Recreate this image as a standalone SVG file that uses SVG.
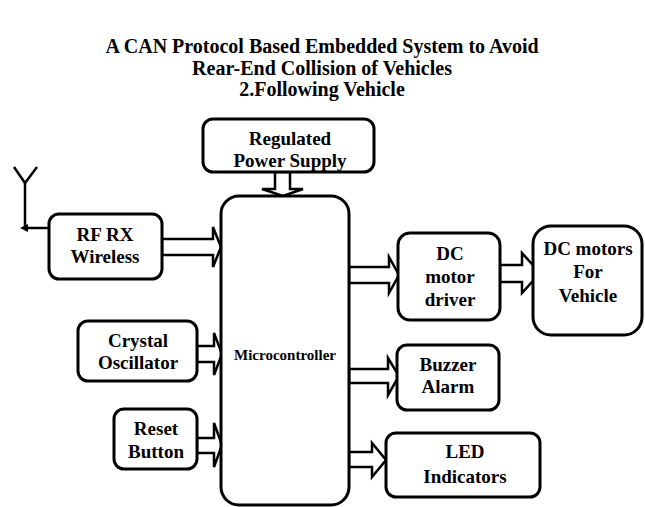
<svg xmlns="http://www.w3.org/2000/svg" width="645" height="507" viewBox="0 0 645 507">
<style>
.box{fill:#fff;stroke:#000;stroke-width:3}
.ba{fill:#fff;stroke:#000;stroke-width:2.5;stroke-linejoin:miter}
.t{font-family:"Liberation Serif","Times New Roman",serif;font-weight:bold;font-size:19px;text-anchor:middle;fill:#000}
.title{font-size:20px}
.mc{font-size:15px}
.ln{stroke:#000;stroke-width:2.5;fill:none}
</style>
<rect width="645" height="507" fill="#fff"/>
<g id="title">
<text class="t title" x="322" y="53">A CAN Protocol Based Embedded System to Avoid</text>
<text class="t title" x="322" y="75">Rear-End Collision of Vehicles</text>
<text class="t title" x="322" y="96">2.Following Vehicle</text>
</g>
<g id="connectors">
<polygon class="ba" points="162,239 213,239 213,227 221,247 213,267 213,255 162,255"/>
<polygon class="ba" points="197,346 214,346 214,333 222,354 214,375 214,362 197,362"/>
<polygon class="ba" points="197,438 214,438 214,423 222,445 214,467 214,453 197,453"/>
<polygon class="ba" points="275,172 290,172 290,189 303,189 283,196 262,189 275,189"/>
<polygon class="ba" points="349,267 389,267 389,257 399,275 389,293 389,283 349,283"/>
<polygon class="ba" points="500,265 522,265 522,253 540,273 522,293 522,282 500,282"/>
<polygon class="ba" points="349,369 388,369 388,358 399,376 388,395 388,383 349,383"/>
<polygon class="ba" points="349,452 372,452 372,443 386,460 372,477 372,467 349,467"/>
<g id="antenna">
<polyline class="ln" points="14,167 25,183 37,167"/>
<line class="ln" x1="25" y1="183" x2="25" y2="228"/>
<line class="ln" x1="49" y1="228" x2="27" y2="228"/>
<polygon points="20,228 28,224 28,232" fill="#000"/>
</g>
</g>
<g id="power">
<rect class="box" x="203" y="119" width="171" height="53" rx="10"/>
<text class="t" x="290" y="145">Regulated</text>
<text class="t" x="290" y="167">Power Supply</text>
</g>
<g id="mcu">
<rect class="box" x="221" y="196" width="128" height="309" rx="18"/>
<text class="t mc" x="285" y="360">Microcontroller</text>
</g>
<g id="rf">
<rect class="box" x="49" y="214" width="113" height="65" rx="10"/>
<text class="t" x="105" y="241">RF RX</text>
<text class="t" x="105" y="263">Wireless</text>
</g>
<g id="crystal">
<rect class="box" x="78" y="321" width="119" height="60" rx="10"/>
<text class="t" x="138" y="347">Crystal</text>
<text class="t" x="138" y="369">Oscillator</text>
</g>
<g id="reset">
<rect class="box" x="114" y="409" width="83" height="60" rx="10"/>
<text class="t" x="156" y="435">Reset</text>
<text class="t" x="156" y="458">Button</text>
</g>
<g id="driver">
<rect class="box" x="398" y="233" width="102" height="87" rx="12"/>
<text class="t" x="450" y="260">DC</text>
<text class="t" x="450" y="283">motor</text>
<text class="t" x="450" y="306">driver</text>
</g>
<g id="motors">
<rect class="box" x="533" y="226" width="109" height="109" rx="18"/>
<text class="t" x="588" y="255">DC motors</text>
<text class="t" x="588" y="278">For</text>
<text class="t" x="588" y="302">Vehicle</text>
</g>
<g id="buzzer">
<rect class="box" x="397" y="345" width="102" height="65" rx="10"/>
<text class="t" x="448" y="371">Buzzer</text>
<text class="t" x="448" y="393">Alarm</text>
</g>
<g id="led">
<rect class="box" x="386" y="433" width="154" height="64" rx="10"/>
<text class="t" x="465" y="458">LED</text>
<text class="t" x="465" y="483">Indicators</text>
</g>
</svg>
